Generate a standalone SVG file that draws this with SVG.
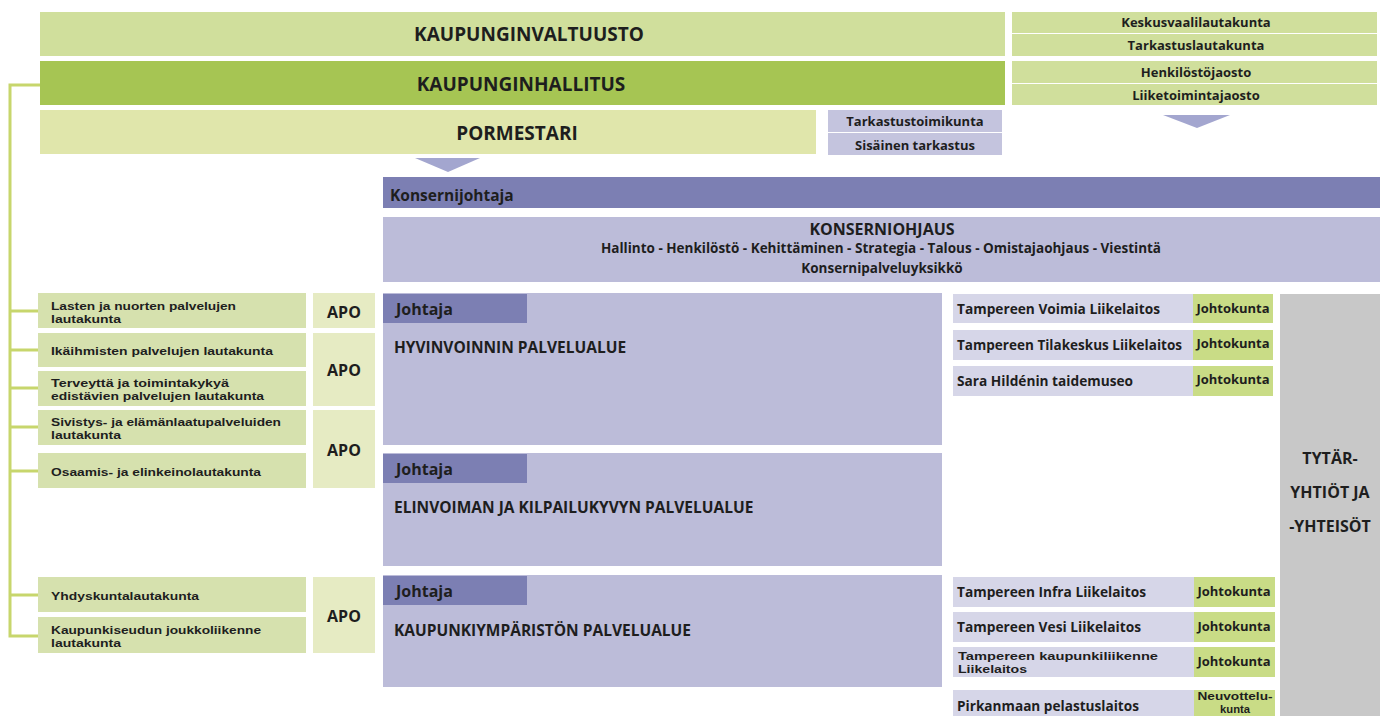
<svg xmlns="http://www.w3.org/2000/svg" width="1389" height="716" viewBox="0 0 1389 716">
<style>
text{font-family:"Open Sans","Liberation Sans",sans-serif;font-weight:700;fill:#1e1e1e;dominant-baseline:central}
.c{text-anchor:middle}
.big{font-size:19px}
.hd{font-size:15.5px}
.jt{font-size:16px}
.apo-t{font-size:16px}
.kx{font-size:13.5px}
.lt{font-family:"Liberation Sans","Open Sans",sans-serif;font-size:11.6px}
.rt{font-size:13.5px}
.rt2{font-family:"Liberation Sans","Open Sans",sans-serif;font-size:11.5px}
.jk-t{font-size:13px}
.top{font-size:13px}
.g1{fill:#d0df9c}
.g2{fill:#a6c553}
.g3{fill:#e0e6ab}
.gl{fill:#d6e1ae}
.apo{fill:#e6ebc3}
.lav{fill:#bcbcd9}
.lav2{fill:#c4c4de}
.hdr{fill:#7c7fb3}
.row{fill:#d6d6e8}
.jk{fill:#c9dc86}
.conn{stroke:#c7d66c;stroke-width:3;fill:none}
</style>
<rect width="1389" height="716" fill="#ffffff"/>
<g id="connectors">
<path class="conn" d="M40 85 H10 V636 H38"/>
<path class="conn" d="M10 311 H38 M10 350 H38 M10 388 H38 M10 427 H38 M10 471 H38 M10 595 H38"/>
<polygon points="415,158 480,158 448,172" fill="#a3a6cf"/>
<polygon points="1163,115 1230,115 1197,128" fill="#a3a6cf"/>
</g>
<g id="valtuusto"><rect class="g1" x="40" y="12" width="965" height="44"/><text class="c big" x="529" y="34">KAUPUNGINVALTUUSTO</text></g>
<g id="hallitus"><rect class="g2" x="40" y="61" width="965" height="44"/><text class="c big" x="521" y="84">KAUPUNGINHALLITUS</text></g>
<g id="pormestari"><rect class="g3" x="40" y="110" width="776" height="44"/><text class="c big" x="517" y="133">PORMESTARI</text></g>
<g id="lautakunnat">
<rect class="g1" x="1012" y="12" width="365" height="21"/><text class="c top" x="1196" y="22">Keskusvaalilautakunta</text>
<rect class="g1" x="1012" y="34" width="365" height="22"/><text class="c top" x="1196" y="45">Tarkastuslautakunta</text>
<rect class="g1" x="1012" y="61" width="365" height="22"/><text class="c top" x="1196" y="72">Henkilöstöjaosto</text>
<rect class="g1" x="1012" y="84" width="365" height="21"/><text class="c top" x="1196" y="95">Liiketoimintajaosto</text>
</g>
<g id="tarkastus">
<rect class="lav2" x="828" y="110" width="174" height="22"/><text class="c top" x="915" y="121">Tarkastustoimikunta</text>
<rect class="lav2" x="828" y="133" width="174" height="22"/><text class="c top" x="915" y="145">Sisäinen tarkastus</text>
</g>
<g id="konsernijohtaja"><rect class="hdr" x="383" y="177" width="997" height="31"/><text class="hd" x="390" y="195">Konsernijohtaja</text></g>
<g id="konserniohjaus"><rect class="lav" x="383" y="217" width="997" height="65"/>
<text class="c kx" x="882" y="229"><tspan x="882" y="229" style="font-size:16px">KONSERNIOHJAUS</tspan><tspan x="881" y="248">Hallinto - Henkilöstö - Kehittäminen - Strategia - Talous - Omistajaohjaus - Viestintä</tspan><tspan x="882" y="268">Konsernipalveluyksikkö</tspan></text></g>
<g id="lauta-lasten"><rect class="gl" x="38" y="293" width="268" height="35"/><text class="lt" x="51" y="304.5"><tspan x="51" y="304.5" textLength="185" lengthAdjust="spacingAndGlyphs">Lasten ja nuorten palvelujen</tspan><tspan x="51" y="317.5" textLength="70" lengthAdjust="spacingAndGlyphs">lautakunta</tspan></text></g>
<g id="lauta-ikaihmiset"><rect class="gl" x="38" y="333" width="268" height="34"/><text class="lt" x="51" y="350" textLength="222" lengthAdjust="spacingAndGlyphs">Ikäihmisten palvelujen lautakunta</text></g>
<g id="lauta-terveys"><rect class="gl" x="38" y="371" width="268" height="35"/><text class="lt" x="51" y="382"><tspan x="51" y="382" textLength="178" lengthAdjust="spacingAndGlyphs">Terveyttä ja toimintakykyä</tspan><tspan x="51" y="395" textLength="213" lengthAdjust="spacingAndGlyphs">edistävien palvelujen lautakunta</tspan></text></g>
<g id="lauta-sivistys"><rect class="gl" x="38" y="410" width="268" height="35"/><text class="lt" x="51" y="421"><tspan x="51" y="421" textLength="230" lengthAdjust="spacingAndGlyphs">Sivistys- ja elämänlaatupalveluiden</tspan><tspan x="51" y="434" textLength="70" lengthAdjust="spacingAndGlyphs">lautakunta</tspan></text></g>
<g id="lauta-osaamis"><rect class="gl" x="38" y="453" width="268" height="35"/><text class="lt" x="51" y="471" textLength="210" lengthAdjust="spacingAndGlyphs">Osaamis- ja elinkeinolautakunta</text></g>
<g id="lauta-yhdyskunta"><rect class="gl" x="38" y="577" width="268" height="35"/><text class="lt" x="51" y="595" textLength="148" lengthAdjust="spacingAndGlyphs">Yhdyskuntalautakunta</text></g>
<g id="lauta-joukkoliikenne"><rect class="gl" x="38" y="617" width="268" height="36"/><text class="lt" x="51" y="629"><tspan x="51" y="628.5" textLength="210" lengthAdjust="spacingAndGlyphs">Kaupunkiseudun joukkoliikenne</tspan><tspan x="51" y="641.5" textLength="70" lengthAdjust="spacingAndGlyphs">lautakunta</tspan></text></g>
<g id="apo1"><rect class="apo" x="313" y="293" width="62" height="35"/><text class="c apo-t" x="344" y="312">APO</text></g>
<g id="apo2"><rect class="apo" x="313" y="333" width="62" height="73"/><text class="c apo-t" x="344" y="370">APO</text></g>
<g id="apo3"><rect class="apo" x="313" y="410" width="62" height="78"/><text class="c apo-t" x="344" y="450">APO</text></g>
<g id="apo4"><rect class="apo" x="313" y="577" width="62" height="76"/><text class="c apo-t" x="344" y="616">APO</text></g>
<g id="hyvinvointi"><rect class="lav" x="383" y="293" width="559" height="152"/><rect class="hdr" x="383" y="294" width="144" height="29"/>
<text class="jt" x="396" y="309">Johtaja</text><text class="hd" x="394" y="347">HYVINVOINNIN PALVELUALUE</text></g>
<g id="elinvoima"><rect class="lav" x="383" y="453" width="559" height="113"/><rect class="hdr" x="383" y="454" width="144" height="29"/>
<text class="jt" x="396" y="469">Johtaja</text><text class="hd" x="394" y="507">ELINVOIMAN JA KILPAILUKYVYN PALVELUALUE</text></g>
<g id="kaupunkiymparisto"><rect class="lav" x="383" y="575" width="559" height="112"/><rect class="hdr" x="383" y="576" width="144" height="29"/>
<text class="jt" x="396" y="591">Johtaja</text><text class="hd" x="394" y="630">KAUPUNKIYMPÄRISTÖN PALVELUALUE</text></g>
<g id="voimia"><rect class="row" x="953" y="294" width="240" height="29"/><rect class="jk" x="1193" y="294" width="80" height="29"/><text class="rt" x="957" y="309" textLength="203" lengthAdjust="spacingAndGlyphs">Tampereen Voimia Liikelaitos</text><text class="c jk-t" x="1233" y="308">Johtokunta</text></g>
<g id="tilakeskus"><rect class="row" x="953" y="330" width="240" height="30"/><rect class="jk" x="1193" y="330" width="80" height="30"/><text class="rt" x="957" y="345" textLength="225" lengthAdjust="spacingAndGlyphs">Tampereen Tilakeskus Liikelaitos</text><text class="c jk-t" x="1233" y="343">Johtokunta</text></g>
<g id="hilden"><rect class="row" x="953" y="366" width="240" height="30"/><rect class="jk" x="1193" y="366" width="80" height="30"/><text class="rt" x="957" y="381" textLength="176" lengthAdjust="spacingAndGlyphs">Sara Hildénin taidemuseo</text><text class="c jk-t" x="1233" y="379">Johtokunta</text></g>
<g id="infra"><rect class="row" x="953" y="577" width="241" height="30"/><rect class="jk" x="1194" y="577" width="81" height="30"/><text class="rt" x="957" y="592" textLength="189" lengthAdjust="spacingAndGlyphs">Tampereen Infra Liikelaitos</text><text class="c jk-t" x="1234" y="591">Johtokunta</text></g>
<g id="vesi"><rect class="row" x="953" y="612" width="241" height="30"/><rect class="jk" x="1194" y="612" width="81" height="30"/><text class="rt" x="957" y="627" textLength="184" lengthAdjust="spacingAndGlyphs">Tampereen Vesi Liikelaitos</text><text class="c jk-t" x="1234" y="626">Johtokunta</text></g>
<g id="kaupunkiliikenne"><rect class="row" x="953" y="647" width="241" height="30"/><rect class="jk" x="1194" y="647" width="81" height="30"/><text class="rt2" x="958" y="655"><tspan x="958" y="655.5" textLength="200" lengthAdjust="spacingAndGlyphs">Tampereen kaupunkiliikenne</tspan><tspan x="958" y="668.5" textLength="69" lengthAdjust="spacingAndGlyphs">Liikelaitos</tspan></text><text class="c jk-t" x="1234" y="661">Johtokunta</text></g>
<g id="pelastuslaitos"><rect class="row" x="953" y="690" width="241" height="30"/><rect class="jk" x="1194" y="690" width="81" height="30"/><text class="rt" x="957" y="706" textLength="182" lengthAdjust="spacingAndGlyphs">Pirkanmaan pelastuslaitos</text><text class="c rt2" x="1235" y="696"><tspan x="1235" y="696" textLength="75" lengthAdjust="spacingAndGlyphs">Neuvottelu-</tspan><tspan x="1235" y="709" textLength="30" lengthAdjust="spacingAndGlyphs">kunta</tspan></text></g>
<g id="tytaryhtiot"><rect fill="#c8c8c8" x="1280" y="294" width="100" height="430"/>
<text class="c jt" x="1330" y="458"><tspan x="1330" y="458">TYTÄR-</tspan><tspan x="1330" y="492">YHTIÖT JA</tspan><tspan x="1330" y="526">-YHTEISÖT</tspan></text></g>
</svg>
